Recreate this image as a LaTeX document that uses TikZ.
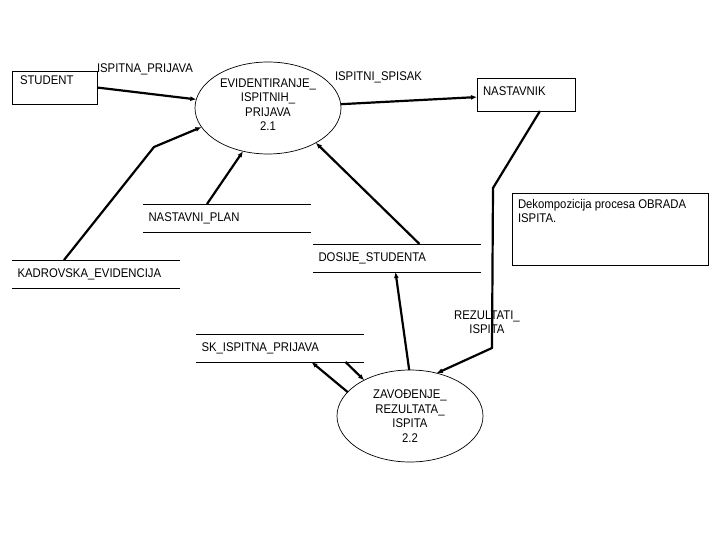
\documentclass[tikz,border=0pt]{standalone}
\usepackage{fontspec}
\setmainfont{Liberation Sans}[FakeStretch=0.9]
\usetikzlibrary{arrows.meta,shapes.geometric}
\begin{document}
\begin{tikzpicture}[x=1pt,y=-1pt,
  every node/.style={font=\fontsize{12.6}{14.5}\selectfont, inner sep=0pt, outer sep=0pt},
  box/.style={draw, line width=0.8pt, rectangle, anchor=north west},
  proc/.style={draw, ellipse, line width=0.7pt, minimum width=146pt, minimum height=92pt, align=center},
  store/.style={anchor=north west, minimum width=168pt, minimum height=28pt, text width=157pt, inner xsep=5.5pt, align=left},
  storeline/.style={line width=0.8pt},
  flow/.style={line width=2.2pt, line join=round, -{Latex[length=6pt,width=5pt]}},
  lbl/.style={anchor=west, align=left}]
\fill[white] (0,0) rectangle (720,540);
\useasboundingbox (0,0) rectangle (720,540);

% external entities
\node[box, minimum width=85pt, minimum height=33pt] (student) at (12,71) {};
\node[lbl] (studentT) at (20,80) {STUDENT};
\node[box, minimum width=98pt, minimum height=33pt] (nastavnik) at (477,78) {};
\node[lbl] (nastavnikT) at (483,91) {NASTAVNIK};
\node[box, minimum width=196pt, minimum height=72pt] (dk) at (512,193) {};
\node[anchor=north west, align=left] (dkT) at (518,199) {Dekompozicija procesa OBRADA\\ISPITA.};

% processes
\node[proc] (e1) at (268,108) {EVIDENTIRANJE\_\\ISPITNIH\_\\PRIJAVA\\2.1\\[-8pt]\mbox{}};
\node[proc] (e2) at (410,416) {ZAVOĐENJE\_\\REZULTATA\_\\ISPITA\\2.2};

% data stores
\node[store] (np) at (143,204) {NASTAVNI\_PLAN};
\node[store] (kd) at (12,260) {KADROVSKA\_EVIDENCIJA};
\node[store] (ds) at (313,244) {DOSIJE\_STUDENTA};
\node[store] (sk) at (196,334) {SK\_ISPITNA\_PRIJAVA};
\foreach \s in {np,kd,ds,sk}{
  \draw[storeline] (\s.north west) -- (\s.north east) (\s.south west) -- (\s.south east);
}

% flow labels
\node[lbl] (l1) at (97,69) {ISPITNA\_PRIJAVA};
\node[lbl] (l2) at (335,77) {ISPITNI\_SPISAK};
\node[align=center] (l3) at (487,322) {REZULTATI\_\\ISPITA};

% bends
\coordinate (b1) at (493,188);
\coordinate (b2) at (492,348);
\coordinate (k1) at (154,147);

% flows
\draw[flow] (student.east) -- (e1);
\draw[flow] (e1) -- (nastavnik);
\draw[flow] ([xshift=14pt]nastavnik.south) -- (b1) -- (b2) -- (e2.58);
\draw[flow] ([xshift=-32pt]kd.north) -- (k1) -- (e1.196);
\draw[flow] ([xshift=-20pt]np.north) -- (e1.240);
\draw[flow] ([xshift=22.5pt]ds.north) -- (e1.324);
\draw[flow] (e2.91) -- ([xshift=-1.5pt]ds.south);
\draw[flow] (e2.159) -- ([xshift=31.5pt]sk.south);
\draw[flow] ([xshift=65.5pt]sk.south) -- (e2.142);
\end{tikzpicture}
\end{document}
